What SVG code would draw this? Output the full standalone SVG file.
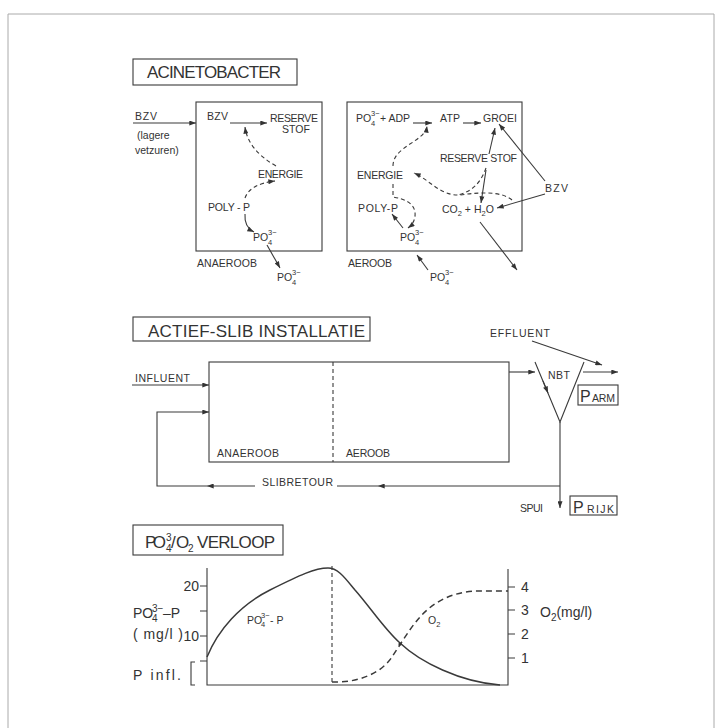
<svg xmlns="http://www.w3.org/2000/svg" width="722" height="728" viewBox="0 0 722 728">
<defs>
<marker id="ah" viewBox="0 0 8 6" markerWidth="8" markerHeight="5" refX="8" refY="3" orient="auto" markerUnits="userSpaceOnUse">
<path d="M0,0 L8,3 L0,6 z" fill="#333"/>
</marker>
<style>
.ln{stroke:#3a3a3a;stroke-width:1.1;fill:none}
.ds{stroke-dasharray:4 3}
.ar{marker-end:url(#ah)}
text{font-family:"Liberation Sans",Arial,sans-serif;fill:#333;font-size:10.5px}
.h{font-size:17px}
.g{font-size:14px}
.s{font-size:7.5px}
.gs{font-size:10px}
</style>
</defs>
<rect width="722" height="728" fill="#fff"/>
<path d="M8,730 L8,14 L714,14 L714,730" fill="none" stroke="#aaa" stroke-width="1"/>

<!-- Section 1: ACINETOBACTER -->
<g id="title-acinetobacter">
<rect class="ln" x="133" y="59" width="164" height="26"/>
<text class="h" x="147" y="78" textLength="134">ACINETOBACTER</text>
</g>

<g id="anaeroob-box">
<rect class="ln" x="196" y="102" width="126" height="149"/>
<text x="135" y="120" textLength="22">BZV</text>
<text x="137" y="139">(lagere</text>
<text x="135" y="154">vetzuren)</text>
<text x="207" y="120" textLength="21">BZV</text>
<text x="270" y="122" textLength="48">RESERVE</text>
<text x="282" y="133">STOF</text>
<text x="258" y="178" textLength="45">ENERGIE</text>
<text x="208" y="211" textLength="42">POLY - P</text>
<text x="253" y="241">PO</text><text class="s" x="268" y="245">4</text><text class="s" x="268" y="235">3−</text>
<text x="197" y="267" textLength="60">ANAEROOB</text>
<text x="277" y="281">PO</text><text class="s" x="292" y="285">4</text><text class="s" x="292" y="275">3−</text>
</g>

<g id="aeroob-box">
<rect class="ln" x="347" y="102" width="175" height="149"/>
<text x="356" y="122">PO</text><text class="s" x="371" y="126">4</text><text class="s" x="371" y="116">3−</text>
<text x="380" y="122">+ ADP</text>
<text x="440" y="122" textLength="20">ATP</text>
<text x="483" y="122" textLength="34">GROEI</text>
<text x="440" y="162" textLength="77">RESERVE STOF</text>
<text x="357" y="179" textLength="46">ENERGIE</text>
<text x="358" y="212" textLength="40">POLY-P</text>
<text x="442" y="213">CO<tspan class="s" dy="3">2</tspan><tspan dy="-3"> + H</tspan><tspan class="s" dy="3">2</tspan><tspan dy="-3">O</tspan></text>
<text x="545" y="192" textLength="23">BZV</text>
<text x="400" y="241">PO</text><text class="s" x="415" y="245">4</text><text class="s" x="415" y="235">3−</text>
<text x="348" y="267" textLength="44">AEROOB</text>
<text x="430" y="281">PO</text><text class="s" x="445" y="285">4</text><text class="s" x="445" y="275">3−</text>
</g>

<!-- Section 2: ACTIEF-SLIB INSTALLATIE -->
<g id="title-actief-slib">
<rect class="ln" x="133" y="317" width="237" height="24"/>
<text class="h" x="148" y="337" textLength="217">ACTIEF-SLIB INSTALLATIE</text>
</g>
<g id="reactor">
<rect class="ln" x="209" y="362" width="300" height="100"/>
<line class="ln ds" x1="333" y1="362" x2="333" y2="462"/>
<text x="217" y="457" textLength="62">ANAEROOB</text>
<text x="346" y="457" textLength="44">AEROOB</text>
</g>
<g id="nbt">
<path class="ln" d="M535,362 L560,422 L584,362"/>
<text x="548" y="379" textLength="22">NBT</text>
</g>
<g id="parm">
<rect class="ln" x="578" y="385" width="40" height="20"/>
<text x="580" y="402" style="font-size:16px">P</text><text x="592" y="402" textLength="23">ARM</text>
</g>
<g id="prijk">
<rect class="ln" x="570" y="496" width="47" height="19"/>
<text x="573" y="513" style="font-size:16px">P</text><text x="587" y="513" textLength="27">RIJK</text>
</g>
<g id="labels-mid">
<text x="135" y="382" textLength="55">INFLUENT</text>
<text x="490" y="337" textLength="60">EFFLUENT</text>
<text x="262" y="486" textLength="71">SLIBRETOUR</text>
<text x="520" y="512" textLength="23">SPUI</text>
</g>

<!-- Section 3: graph -->
<g id="title-verloop">
<rect class="ln" x="133" y="525" width="150" height="30"/>
<text class="h" x="145" y="548" textLength="21">PO</text>
<text class="gs" x="166" y="541">3</text><text class="gs" x="166" y="552">4</text>
<text class="h" x="171" y="548">/</text>
<text class="h" x="176" y="548" textLength="11">O</text>
<text class="gs" x="188" y="552">2</text>
<text class="h" x="197" y="548" textLength="78">VERLOOP</text>
</g>
<g id="graph-axes">
<path class="ln" d="M207,568 L207,685 L508,685 L508,569"/>
<path class="ln" d="M200,586 H207 M200,611 H207 M200,636 H207 M200,661 H207 M508,587 H515 M508,610 H515 M508,634 H515 M508,658 H515"/>
<line class="ln ds" x1="332" y1="566" x2="332" y2="684"/>
<path class="ln" d="M195,662 L191,662 L191,685 L195,685"/>
<text class="g" x="199" y="591" text-anchor="end">20</text>
<text class="g" x="199" y="641" text-anchor="end">10</text>
<text class="g" x="133" y="618">PO</text><text class="gs" x="152" y="622">4</text><text class="gs" x="152" y="612">3−</text>
<text class="g" x="163" y="618">–P</text>
<text class="g" x="133" y="639" textLength="50">( mg/l )</text>
<text class="g" x="133" y="680" textLength="48">P infl.</text>
<text class="g" x="521" y="592">4</text>
<text class="g" x="521" y="615">3</text>
<text class="g" x="521" y="639">2</text>
<text class="g" x="521" y="663">1</text>
<text class="g" x="540" y="617">O<tspan class="gs" dy="4">2</tspan><tspan dy="-4">(mg/l)</tspan></text>
</g>
<g id="curve-p">
<path class="ln" style="stroke-width:1.5" d="M207,657 C218,630 240,605 270,590 S315,568 328,568 C338,568 345,578 355,590 C370,607 385,630 400,643 C420,662 460,682 500,685"/>
<text x="247" y="624">PO</text><text class="s" x="261" y="627">4</text><text class="s" x="261" y="618">3−</text><text x="270" y="624">- P</text>
</g>
<g id="curve-o2">
<path class="ln ds" style="stroke-width:1.5;stroke-dasharray:6 4" d="M332,682 C355,683 380,675 392,657 C400,645 410,628 420,617 C435,600 455,592 475,591 L508,591"/>
<text x="428" y="624">O<tspan class="s" dy="3">2</tspan></text>
<circle cx="400" cy="644" r="1.6" fill="#333"/>
</g>

<g id="connectors">
<line class="ln ar" x1="133" y1="123" x2="196" y2="123"/>
<line class="ln ar" x1="230" y1="123" x2="267" y2="123"/>
<path class="ln ds ar" d="M276,166 Q248,150 245,127"/>
<path class="ln ds ar" d="M245,198 Q250,184 275,181"/>
<path class="ln ar" d="M245,214 Q244,227 254,232"/>
<line class="ln ar" x1="267" y1="245" x2="280" y2="268"/>
<line class="ln ar" x1="413" y1="123" x2="432" y2="123"/>
<line class="ln ar" x1="463" y1="123" x2="481" y2="123"/>
<path class="ln ds ar" d="M393,166 C393,146 425,142 427,126"/>
<path class="ln ds ar" d="M393,184 L393,197 Q413,200 415,212 Q416,222 408,228"/>
<path class="ln ds ar" d="M512,200 C500,190 475,193 460,195 C440,196 430,180 414,173"/>
<path class="ln ds" d="M486,168 C480,185 470,192 458,195"/>
<line class="ln ar" x1="489" y1="154" x2="495" y2="128"/>
<line class="ln ar" x1="486" y1="170" x2="481" y2="203"/>
<line class="ln ar" x1="545" y1="181" x2="499" y2="124"/>
<line class="ln ar" x1="545" y1="194" x2="497" y2="208"/>
<line class="ln ar" x1="480" y1="222" x2="517" y2="270"/>
<line class="ln ar" x1="403" y1="228" x2="392" y2="214"/>
<line class="ln ar" x1="428" y1="270" x2="417" y2="255"/>
<line class="ln ar" x1="132" y1="385" x2="209" y2="385"/>
<line class="ln ar" x1="509" y1="372" x2="535" y2="372"/>
<line class="ln ar" x1="583" y1="372" x2="618" y2="372"/>
<line class="ln ar" x1="532" y1="341" x2="602" y2="365"/>
<line class="ln ar" x1="543" y1="381" x2="548" y2="393"/>
<line class="ln ar" x1="560" y1="422" x2="560" y2="508"/>
<line class="ln ar" x1="560" y1="486" x2="378" y2="486"/>
<line class="ln" x1="378" y1="486" x2="337" y2="486"/>
<line class="ln ar" x1="255" y1="486" x2="207" y2="486"/>
<path class="ln ar" d="M207,486 L157,486 L157,412 L209,412"/>
</g>
</svg>
